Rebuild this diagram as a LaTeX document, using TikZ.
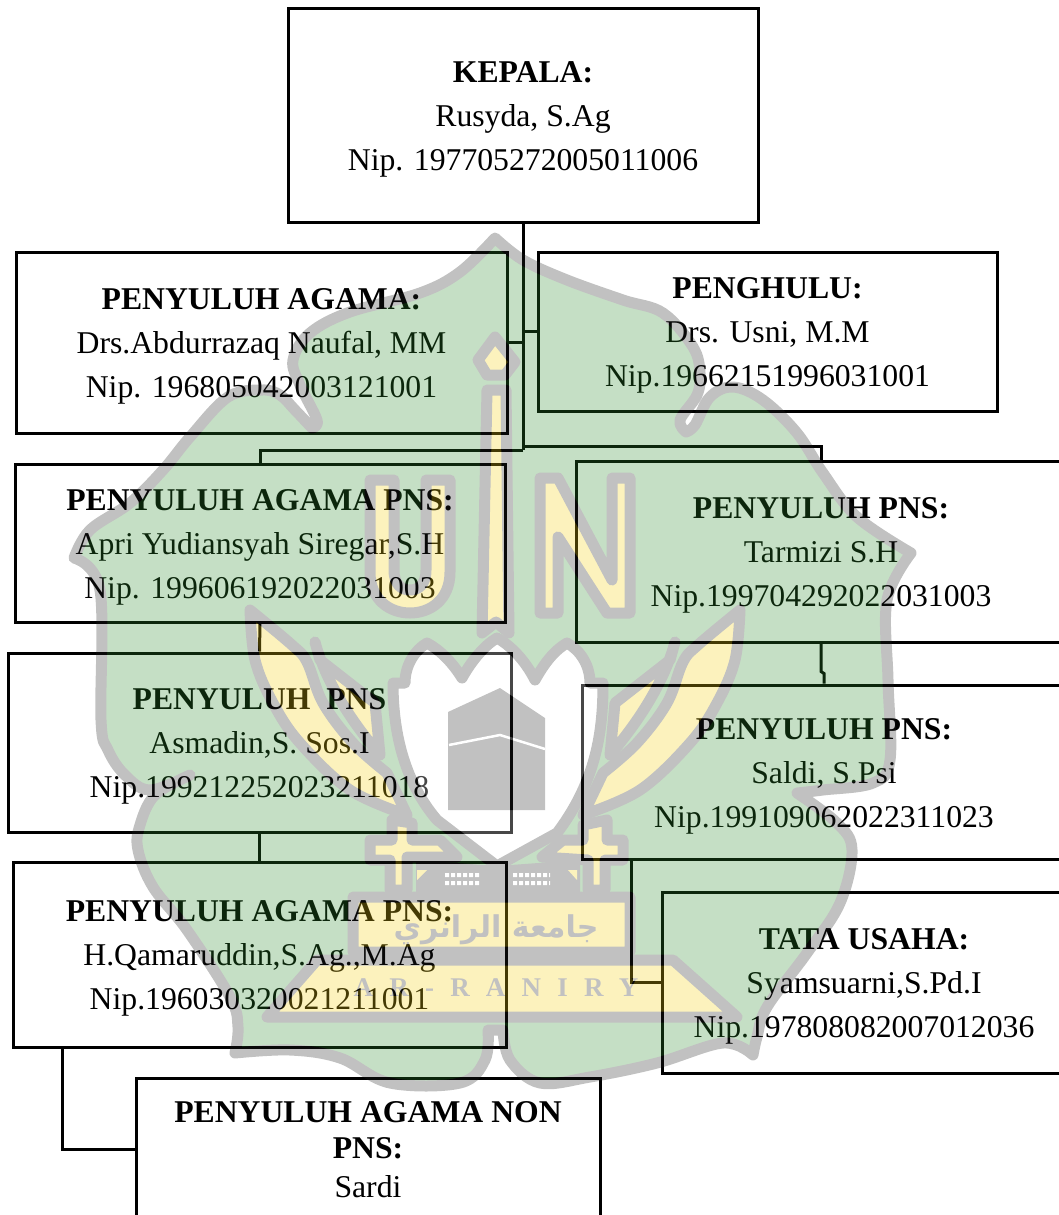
\documentclass[tikz,border=0pt]{standalone}
\usepackage{fontspec}
\setmainfont{Liberation Serif}
\newfontfamily\arabicfont[Script=Arabic]{DejaVu Sans}
\newfontfamily\wmfont[LetterSpace=60]{Liberation Serif}
\TeXXeTstate=1
\definecolor{wmgreen}{rgb}{0.18,0.55,0.18}
\definecolor{wmyellow}{rgb}{0.96,0.82,0.07}
\definecolor{wmgray}{rgb}{0.12,0.12,0.12}
\tikzset{
  box/.style={draw, line width=3pt, inner sep=0pt, align=center, font=\fontsize{31.7}{44}\selectfont, text height=117pt},
  link/.style={line width=3pt, line join=miter},
  wm/.style={draw=wmgray, line width=11pt, line join=round},
}
\begin{document}
\begin{tikzpicture}[x=1pt, y=-1pt]
    \useasboundingbox (0,0) rectangle (1058,1215);
    \node[box, minimum width=470pt, minimum height=213pt] (kepala) at (523,115.5) {\textbf{KEPALA:}\\Rusyda, S.Ag\\Nip. 197705272005011006};
    \node[box, minimum width=491pt, minimum height=181pt] (agama) at (261.5,342.5) {\textbf{PENYULUH AGAMA:}\\Drs.Abdurrazaq Naufal, MM\\Nip. 196805042003121001};
    \node[box, minimum width=459pt, minimum height=159pt] (penghulu) at (767.5,331.5) {\textbf{PENGHULU:}\\Drs. Usni, M.M\\Nip.19662151996031001};
    \node[box, minimum width=490pt, minimum height=158pt] (apri) at (260,543) {\textbf{PENYULUH AGAMA PNS:}\\Apri Yudiansyah Siregar,S.H\\Nip. 199606192022031003};
    \node[box, minimum width=490pt, minimum height=181pt] (tarmizi) at (821,551.5) {\textbf{PENYULUH PNS:}\\Tarmizi S.H\\Nip.199704292022031003};
    \node[box, minimum width=503pt, minimum height=179pt] (asmadin) at (259.5,742.5) {\textbf{PENYULUH\ \ PNS}\\Asmadin,S. Sos.I\\Nip.199212252023211018};
    \node[box, minimum width=484pt, minimum height=174pt] (saldi) at (824,772) {\textbf{PENYULUH PNS:}\\Saldi, S.Psi\\Nip.199109062022311023};
    \node[box, minimum width=493pt, minimum height=185pt] (qamar) at (259.5,954.5) {\textbf{PENYULUH AGAMA PNS:}\\H.Qamaruddin,S.Ag.,M.Ag\\Nip.196030320021211001};
    \node[box, minimum width=404pt, minimum height=181pt] (tata) at (864,982.5) {\textbf{TATA USAHA:}\\Syamsuarni,S.Pd.I\\Nip.197808082007012036};
    \node[box, text height=97pt, minimum width=464pt, minimum height=142pt] (nonpns) at (368,1149) {\textbf{PENYULUH AGAMA NON}\\[-8pt]\textbf{PNS:}\\[-5pt]Sardi};
    \coordinate (trunk) at (523,450);
    \coordinate (trunkr) at (523,446);
    \coordinate (saldidrop) at (631,859);
    \coordinate (qamardrop) at (62,1047);
    \draw[link] (kepala.south) -- (trunk);
    \draw[link] (penghulu.west) -| (trunk);
    \draw[link] (agama.east) -| (trunk);
    \draw[link] (trunk) -| (apri.north);
    \draw[link] (trunkr) -| (tarmizi.north);
    \draw[link] (apri.south) -- (asmadin.north);
    \draw[link] (asmadin.south) -- (qamar.north);
    \draw[link] (tarmizi.south) -- ++(0,28) -- ++(3,2) -- (saldi.north);
    \draw[link] (saldidrop) |- (tata.west);
    \draw[link] (qamardrop) |- (nonpns.west);
    \begin{scope}[transparency group, opacity=0.28]
        \draw[wm, fill=wmgreen]
            plot[smooth, tension=0.6] coordinates {(495,238) (460,272) (420,293) (350,312) (310,333) (293,360) (300,385) (317,420) (312,428)}
            -- plot[smooth, tension=0.6] coordinates {(312,428) (295,410) (280,395) (262,390) (228,397) (190,437) (163,470) (130,503) (90,530) (74,558)}
            -- plot[smooth, tension=0.6] coordinates {(74,558) (100,590) (101,720) (108,750) (125,775) (150,790) (190,775)}
            -- plot[smooth, tension=0.6] coordinates {(190,775) (155,795) (140,825) (138,850) (153,887) (187,930) (230,997) (238,1027) (235,1053)}
            -- plot[smooth, tension=0.6] coordinates {(235,1053) (290,1050) (340,1058) (390,1083) (460,1083) (485,1060) (488,1030)}
            -- plot[smooth, tension=0.6] coordinates {(503,1030) (510,1060) (540,1083) (590,1077) (657,1063) (723,1043) (753,1055)}
            -- plot[smooth, tension=0.6] coordinates {(753,1055) (757,1037) (767,1007) (807,953) (840,903) (852,850) (837,823) (797,793)}
            -- plot[smooth, tension=0.6] coordinates {(797,793) (823,790) (873,783) (890,760) (888,680) (887,600) (911,553)}
            -- plot[smooth, tension=0.6] coordinates {(911,553) (857,517) (823,473) (797,433) (763,400) (733,387) (710,397) (695,425) (686,432)}
            -- plot[smooth, tension=0.6] coordinates {(686,432) (680,420) (697,395) (700,373) (693,347) (663,313) (623,300) (567,280) (523,260) (495,238)}
            -- cycle;
        \draw[wm, fill=wmyellow] (495,337) -- (515,362) -- (505,375) -- (487,375) -- (478,360) -- cycle;
        \draw[wm, fill=wmyellow] (487,390) -- (506,390) -- (509,633) -- (496,622) -- (482,633) -- cycle;
        \draw[wm, fill=wmyellow] (370,480) -- (394,480) -- (394,570) .. controls (394,585) and (402,590) .. (410,590) .. controls (418,590) and (426,585) .. (426,570) -- (426,480) -- (450,480) -- (450,572) .. controls (450,600) and (430,613) .. (410,613) .. controls (390,613) and (370,600) .. (370,572) -- cycle;
        \draw[wm, fill=wmyellow] (540,478) -- (558,478) -- (612,580) -- (612,478) -- (630,478) -- (630,613) -- (607,613) -- (558,537) -- (558,613) -- (540,613) -- cycle;
        \draw[wm, fill=wmyellow] plot[smooth, tension=0.6] coordinates {(250,610) (292,645) (307,662) (323,703) (353,743) (387,773)} -- (407,815)
            -- plot[smooth, tension=0.6] coordinates {(407,815) (350,790) (300,743) (273,703) (255,660) (250,610)} -- cycle;
        \draw[wm, fill=wmyellow] (315,642) -- (320,660) -- (375,703) -- (380,755) .. controls (350,720) and (325,680) .. (315,642) -- cycle;
        \draw[wm, fill=wmyellow] plot[smooth, tension=0.6] coordinates {(740,610) (698,645) (683,662) (667,703) (637,743) (603,773)} -- (583,815)
            -- plot[smooth, tension=0.6] coordinates {(583,815) (640,790) (690,743) (717,703) (735,660) (740,610)} -- cycle;
        \draw[wm, fill=wmyellow] (675,642) -- (670,660) -- (615,703) -- (610,755) .. controls (640,720) and (665,680) .. (675,642) -- cycle;
        \draw[wm, fill=white] (393,683) -- (405,683) .. controls (405,665) and (415,650) .. (427,643) .. controls (440,650) and (452,662) .. (462,678) .. controls (472,660) and (485,645) .. (497,638) .. controls (510,645) and (525,660) .. (535,680) .. controls (545,662) and (555,650) .. (567,643) .. controls (580,650) and (590,665) .. (590,683) -- (603,683) .. controls (603,730) and (597,780) .. (557,833) -- (497,866) -- (437,820) .. controls (403,780) and (393,730) .. (393,683) -- cycle;
        \fill[wmgray] (500,688) -- (545,718) -- (545,810) -- (448,810) -- (448,712) -- cycle;
        \draw[white, line width=2.5pt] (449,745) -- (500,735) -- (545,749);
        \fill[wmgray] (416,860) -- (497,866) -- (580,860) -- (580,893) -- (416,893) -- cycle;
        \draw[wm, fill=wmyellow] (392,820) -- (412,823) -- (412,840) -- (440,840) -- (457,857) -- (407,857) -- (407,890) -- (390,890) -- (390,860) -- (370,860) -- (370,840) -- (392,840) -- cycle;
        \draw[wm, fill=wmyellow] (607,820) -- (583,825) -- (583,840) -- (563,840) -- (542,857) -- (588,860) -- (588,890) -- (605,890) -- (605,860) -- (623,860) -- (623,840) -- (607,840) -- cycle;
        \fill[wmyellow] (417,870) -- (427,870) -- (417,880) -- cycle;
        \fill[wmyellow] (568,870) -- (577,870) -- (577,880) -- cycle;
        \foreach \y in {875,883} {
            \draw[white, line width=4pt, dash pattern=on 4pt off 2pt] (445,\y) -- (480,\y);
            \draw[white, line width=4pt, dash pattern=on 4pt off 2pt] (513,\y) -- (550,\y);
        }
        \draw[wm, fill=wmyellow] (353,897) rectangle (630,952);
        \draw[wm, fill=wmyellow] (317,960) -- (673,960) -- (737,1017) -- (267,1017) -- cycle;
        \node[wmgray, inner sep=0pt, font=\fontsize{30}{30}\arabicfont\bfseries] (wmarabic) at (496,930) {\beginR جامعة الرانري\endR};
        \node[wmgray, inner sep=0pt, font=\fontsize{27}{27}\wmfont\bfseries] (wmlatin) at (496,988) {AR-RANIRY};
    \end{scope}
\end{tikzpicture}
\end{document}
